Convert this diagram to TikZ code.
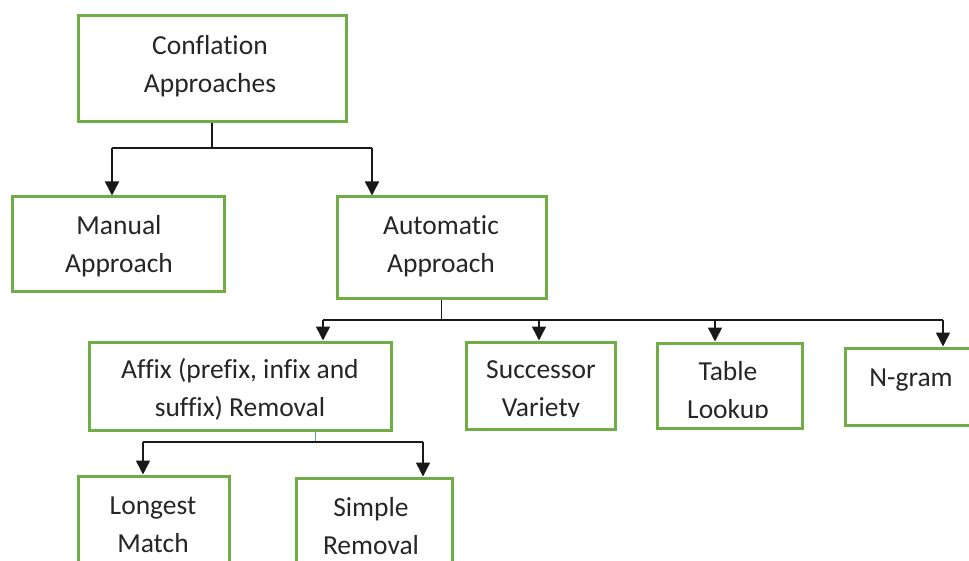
\documentclass[tikz,border=0pt]{standalone}
\usepackage{fontspec}
\setmainfont{Carlito}[Ligatures={NoCommon,NoContextual}]
\usetikzlibrary{arrows.meta}
\definecolor{boxgreen}{HTML}{70AD47}
\definecolor{txtgray}{HTML}{262626}
\definecolor{stemblue}{HTML}{5B9BD5}
\tikzset{
  box/.style={draw=boxgreen, line width=3pt, inner sep=0pt, rectangle},
  txt/.style={text=txtgray, font=\fontsize{27.5}{38}\selectfont, align=center, inner sep=0pt},
  conn/.style={line width=1.5pt, black!90},
  arr/.style={conn, -{Triangle[width=14pt,length=14pt]}},
}
\begin{document}
\begin{tikzpicture}[x=1pt,y=-1pt]
\useasboundingbox (0,0) rectangle (969,561);
\clip (0,0) rectangle (969,561);
\fill[white] (0,0) rectangle (969,561);
% boxes
\node[box, minimum width=268pt, minimum height=106pt] (conf) at (212,69) {};
\node[box, minimum width=212pt, minimum height=95pt] (manual) at (118,244.5) {};
\node[box, minimum width=209pt, minimum height=102pt] (auto) at (441.5,248) {};
\node[box, minimum width=302pt, minimum height=88pt] (affix) at (240,386) {};
\node[box, minimum width=149pt, minimum height=87pt] (succ) at (540.5,385.5) {};
\node[box, minimum width=145pt, minimum height=85pt] (table) at (729.5,385.5) {};
\node[box, minimum width=155pt, minimum height=77pt] (ngram) at (922.5,386.5) {};
\node[box, minimum width=151pt, minimum height=124pt] (longest) at (153.5,538) {};
\node[box, minimum width=156pt, minimum height=122pt] (simple) at (374,539) {};
% texts
\node[txt] (tconf) at (210,66) {Conflation\\Approaches};
\node[txt] (tmanual) at (119,246) {Manual\\Approach};
\node[txt] (tauto) at (441,246) {Automatic\\Approach};
\node[txt] (taffix) at (240,389) {Affix (prefix, infix and\\suffix) Removal};
\begin{scope}
\clip (466,342) rectangle (615,416);
\node[txt] (tsucc) at (541,391) {Successor\\Variety};
\end{scope}
\begin{scope}
\clip (657,343) rectangle (802,417);
\node[txt] (ttable) at (728,392) {Table\\Lookup};
\end{scope}
\node[txt] (tngram) at (911,380) {N-gram};
\node[txt] (tlongest) at (153,525) {Longest\\Match};
\node[txt] (tsimple) at (371,526) {Simple\\Removal};
% level 1 connectors
\coordinate (h1l) at (112,148);
\coordinate (h1r) at (372,148);
\draw[conn] (conf.south) -- (conf.south |- h1l);
\draw[conn] (h1l) -- (h1r);
\draw[arr] (h1l) -- (h1l |- manual.north);
\draw[arr] (h1r) -- (h1r |- auto.north);
% level 2 connectors
\coordinate (h2a) at (323,320);
\coordinate (h2b) at (539,320);
\coordinate (h2c) at (715,320);
\coordinate (h2d) at (943,320);
\draw[conn] (auto.south) -- (auto.south |- h2a);
\draw[conn] (h2a) -- (h2d);
\draw[arr] (h2a) -- (h2a |- affix.north);
\draw[arr] (h2b) -- (h2b |- succ.north);
\draw[arr] (h2c) -- (h2c |- table.north);
\draw[arr] (h2d) -- (h2d |- ngram.north);
% level 3 connectors
\coordinate (h3s) at (315,442);
\coordinate (h3l) at (143,442);
\coordinate (h3r) at (423,442);
\draw[line width=1pt, stemblue] (h3s |- affix.south) -- (h3s);
\draw[conn] (h3l) -- (h3r);
\draw[arr] (h3l) -- (h3l |- longest.north);
\draw[arr] (h3r) -- (h3r |- simple.north);
\end{tikzpicture}
\end{document}
